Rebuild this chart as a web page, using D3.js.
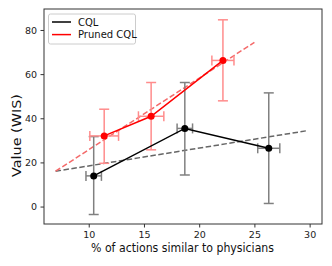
<!DOCTYPE html>
<html><head><meta charset="UTF-8">
<script src="https://d3js.org/d3.v7.min.js"></script>
<style>
  body { margin: 0; background: #fff; }
  text { font-family: "DejaVu Sans", sans-serif; }
</style>
</head>
<body>
<svg id="chart" width="332" height="266"></svg>
<script>
// CQL: x = % similar actions, y = WIS value
var cqlX    = [10.45, 18.7, 26.3];
var cqlXErr = [0.7, 0.7, 1.0];
var cqlY    = [13.9, 35.4, 26.4];
var cqlYLo  = [-3.6, 14.3, 1.4];
var cqlYHi  = [31.7, 56.2, 51.5];

// Pruned CQL
var prX    = [11.4, 15.65, 22.15];
var prXErr = [1.3, 1.15, 1.0];
var prY    = [32.0, 40.9, 66.2];
var prYLo  = [19.6, 25.7, 47.9];
var prYHi  = [44.1, 56.2, 84.6];

// dashed trend lines
var cqlTrend = [[7.0, 16.0], [29.8, 34.4]];
var prTrend  = [[7.0, 16.0], [25.0, 74.4]];

var xTicks = [10, 15, 20, 25, 30];
var yTicks = [0, 20, 40, 60, 80];

var svg = d3.select("#chart");
var L = 44, R = 322, T = 9, B = 224;

var x = d3.scaleLinear().domain([5.95, 31.12]).range([L, R]);
var y = d3.scaleLinear().domain([-7.9, 89.5]).range([B, T]);

var g = svg.append("g");

// trend lines
var line = d3.line().x(function(d){ return x(d[0]); }).y(function(d){ return y(d[1]); });
g.append("path").attr("d", line(cqlTrend)).attr("fill", "none")
  .attr("stroke", "#666").attr("stroke-width", 1.5).attr("stroke-dasharray", "5.5,2.5");
g.append("path").attr("d", line(prTrend)).attr("fill", "none")
  .attr("stroke", "#f46a6a").attr("stroke-width", 1.5).attr("stroke-dasharray", "5.5,2.5");

function errorBars(xs, ys, xe, lo, hi, col) {
  var cap = 5;
  xs.forEach(function(xv, i) {
    var cx = x(xv), cy = y(ys[i]);
    var segs = [
      [cx, y(lo[i]), cx, y(hi[i])],
      [cx - cap, y(lo[i]), cx + cap, y(lo[i])],
      [cx - cap, y(hi[i]), cx + cap, y(hi[i])],
      [x(xv - xe[i]), cy, x(xv + xe[i]), cy],
      [x(xv - xe[i]), cy - cap, x(xv - xe[i]), cy + cap],
      [x(xv + xe[i]), cy - cap, x(xv + xe[i]), cy + cap]
    ];
    segs.forEach(function(s) {
      g.append("line").attr("x1", s[0]).attr("y1", s[1]).attr("x2", s[2]).attr("y2", s[3])
        .attr("stroke", col).attr("stroke-width", 1.5);
    });
  });
}
errorBars(cqlX, cqlY, cqlXErr, cqlYLo, cqlYHi, "#808080");
errorBars(prX, prY, prXErr, prYLo, prYHi, "#ff8c8c");

function series(xs, ys, col) {
  var pts = xs.map(function(v, i){ return [v, ys[i]]; });
  g.append("path").attr("d", line(pts)).attr("fill", "none")
    .attr("stroke", col).attr("stroke-width", 1.5);
  g.selectAll(null).data(pts).enter().append("circle")
    .attr("cx", function(d){ return x(d[0]); })
    .attr("cy", function(d){ return y(d[1]); })
    .attr("r", 3.5).attr("fill", col);
}
series(cqlX, cqlY, "#000");
series(prX, prY, "#ff0000");

// frame
svg.append("rect").attr("x", L).attr("y", T).attr("width", R - L).attr("height", B - T)
  .attr("fill", "none").attr("stroke", "#333").attr("stroke-width", 1);

// axes
var xAxis = svg.append("g").attr("transform", "translate(0," + B + ")")
  .call(d3.axisBottom(x).tickValues(xTicks).tickSize(3.5).tickPadding(3.5));
var yAxis = svg.append("g").attr("transform", "translate(" + L + ",0)")
  .call(d3.axisLeft(y).tickValues(yTicks).tickSize(3.5).tickPadding(3.5));
[xAxis, yAxis].forEach(function(a) {
  a.select(".domain").remove();
  a.selectAll(".tick line").attr("stroke", "#333");
  a.selectAll("text").attr("font-size", 9.5).attr("fill", "#222")
    .attr("font-family", "DejaVu Sans, sans-serif");
});

svg.append("text").attr("x", 91).attr("y", 252)
  .attr("font-size", 11.5).attr("fill", "#111")
  .attr("textLength", 183).attr("lengthAdjust", "spacingAndGlyphs")
  .text("% of actions similar to physicians");
svg.append("text").attr("transform", "translate(21,177) rotate(-90)")
  .attr("font-size", 11.5).attr("fill", "#111")
  .attr("textLength", 83).attr("lengthAdjust", "spacingAndGlyphs")
  .text("Value (WIS)");

// legend
var lg = svg.append("g");
lg.append("rect").attr("x", 48.5).attr("y", 14).attr("width", 87).attr("height", 30).attr("rx", 2)
  .attr("fill", "#fff").attr("fill-opacity", 0.8).attr("stroke", "#ccc");
var legendItems = [["CQL", "#000"], ["Pruned CQL", "#ff0000"]];
legendItems.forEach(function(d, i) {
  var ly = 22 + i * 12.6;
  lg.append("line").attr("x1", 52).attr("x2", 71).attr("y1", ly).attr("y2", ly)
    .attr("stroke", d[1]).attr("stroke-width", 1.5);
  lg.append("text").attr("x", 78).attr("y", ly + 3.5).attr("font-size", 10)
    .attr("fill", "#111").text(d[0]);
});
</script>
</body></html>
